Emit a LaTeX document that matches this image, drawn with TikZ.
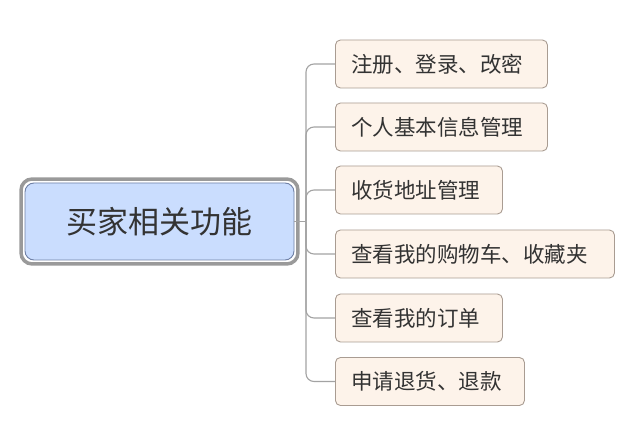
\documentclass[tikz,border=0pt]{standalone}
\usepackage{fontspec}
\setmainfont{Noto Sans CJK SC}
\usetikzlibrary{fit}
\definecolor{MMText}{HTML}{333333}
\definecolor{MMLine}{HTML}{A3A3A3}
\definecolor{MMLeafFill}{HTML}{FDF3EA}
\definecolor{MMLeafLine}{HTML}{A99C92}
\definecolor{MMRootFill}{HTML}{CADDFE}
\definecolor{MMRootLine}{HTML}{6F80A6}
\definecolor{MMFrame}{HTML}{9A9A9A}
\tikzset{
  leaf/.style={draw=MMLeafLine,fill=MMLeafFill,rounded corners=5pt,line width=.9pt,
    anchor=west,minimum height=48pt,inner xsep=16pt,align=left,text=MMText,
    font=\fontsize{21.5}{25}\selectfont},
  root/.style={draw=MMRootLine,fill=MMRootFill,rounded corners=9pt,line width=.9pt,
    minimum width=269pt,minimum height=77pt,text=MMText,
    font=\fontsize{31}{36}\selectfont},
  rootframe/.style={draw=MMFrame,rounded corners=11pt,line width=3.5pt,inner sep=3.5pt},
  link/.style={draw=MMLine,line width=1.1pt,rounded corners=8pt}
}
\begin{document}
\begin{tikzpicture}[x=1pt,y=-1pt]
\path[use as bounding box] (0,0) rectangle (640,427);
\fill[white] (0,0) rectangle (640,427);
\node[root] (buyer) at (159.5,221.5) {买家相关功能};
\node[rootframe,fit=(buyer)] (frame) {};
\coordinate (hub) at (306,221.5);
\node[leaf,text width=180pt] (login) at (335,64) {注册、登录、改密};
\node[leaf,text width=180pt] (info) at (335,127) {个人基本信息管理};
\node[leaf,text width=135pt] (addr) at (335,190) {收货地址管理};
\node[leaf,text width=247pt] (cart) at (335,254) {查看我的购物车、收藏夹};
\node[leaf,text width=135pt] (order) at (335,318) {查看我的订单};
\node[leaf,text width=157pt] (refund) at (335,381.5) {申请退货、退款};
\draw[link] (buyer.east) -- (hub);
\draw[link] (hub) |- (login.west);
\draw[link] (hub) |- (info.west);
\draw[link] (hub) |- (addr.west);
\draw[link] (hub) |- (cart.west);
\draw[link] (hub) |- (order.west);
\draw[link] (hub) |- (refund.west);
\end{tikzpicture}
\end{document}
